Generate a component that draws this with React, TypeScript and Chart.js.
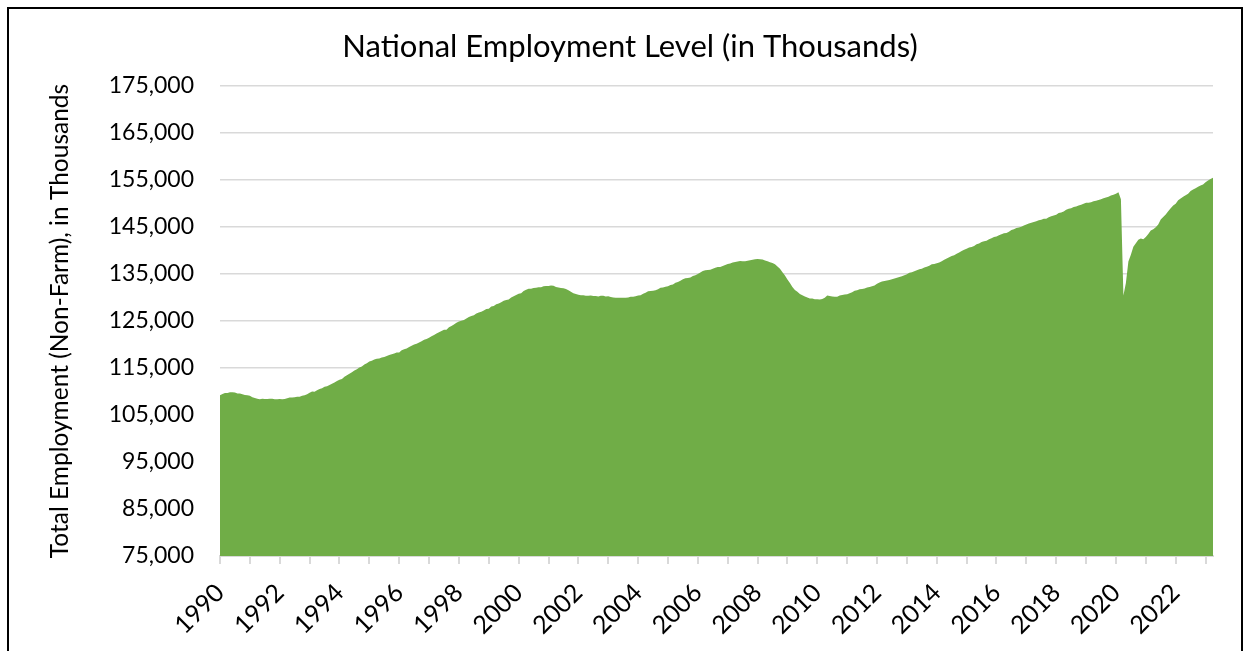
import React, { useEffect, useRef } from "react";
import { Chart, registerables } from "chart.js";

Chart.register(...registerables);

// Monthly total non-farm employment (thousands), Jan 1990 – Apr 2023
const employment1990s: number[] = [
  109199, 109456, 109661, 109698, 109847, 109859, 109802, 109596, 109570, 109417, 109272, 109209,
  109115, 108792, 108643, 108435, 108377, 108451, 108409, 108410, 108431, 108432, 108336, 108364,
  108391, 108336, 108418, 108586, 108697, 108699, 108773, 108900, 108897, 109080, 109211, 109426,
  109740, 109992, 109964, 110271, 110535, 110698, 110991, 111139, 111379, 111642, 111905, 112209,
  112479, 112673, 113133, 113481, 113797, 114107, 114471, 114757, 115101, 115300, 115723, 116018,
  116384, 116568, 116792, 116989, 117002, 117250, 117330, 117537, 117785, 117942, 118081, 118281,
  118311, 118754, 118979, 119137, 119458, 119745, 120005, 120168, 120402, 120682, 120986, 121154,
  121460, 121734, 122047, 122316, 122587, 122848, 123137, 123144, 123664, 123962, 124270, 124627,
  124874, 125046, 125203, 125526, 125864, 126075, 126246, 126596, 126787, 126972, 127255, 127578,
  127595, 128063, 128172, 128544, 128749, 129010, 129326, 129484, 129583, 129984, 130267, 130557,
];
const employment2000s: number[] = [
  130781, 130898, 131370, 131657, 131881, 131879, 132045, 132048, 132155, 132169, 132377, 132440,
  132471, 132531, 132500, 132212, 132150, 132037, 131973, 131808, 131553, 131216, 130903, 130734,
  130591, 130484, 130464, 130374, 130376, 130419, 130323, 130303, 130238, 130363, 130355, 130189,
  130281, 130108, 129985, 129957, 129960, 129945, 129946, 129924, 130004, 130165, 130181, 130284,
  130411, 130455, 130780, 131029, 131335, 131409, 131440, 131569, 131734, 132088, 132151, 132279,
  132413, 132652, 132778, 133131, 133300, 133544, 133890, 134093, 134163, 134251, 134589, 134738,
  135015, 135330, 135632, 135812, 135836, 135915, 136126, 136311, 136472, 136500, 136716, 136892,
  137130, 137224, 137455, 137530, 137673, 137741, 137720, 137727, 137814, 137915, 138027, 138134,
  138198, 138163, 138076, 137878, 137689, 137524, 137325, 137056, 136600, 136117, 135360, 134690,
  133804, 133063, 132259, 131578, 131227, 130761, 130466, 130238, 129989, 129792, 129776, 129605,
];
const employment2010s: number[] = [
  129616, 129558, 129692, 129943, 130431, 130311, 130235, 130180, 130162, 130425, 130552, 130627,
  130672, 130878, 131113, 131428, 131526, 131758, 131834, 131933, 132145, 132235, 132371, 132560,
  132923, 133188, 133428, 133513, 133614, 133712, 133870, 134048, 134215, 134345, 134503, 134747,
  134943, 135255, 135395, 135589, 135810, 135985, 136121, 136367, 136551, 136778, 137059, 137109,
  137297, 137466, 137734, 138045, 138285, 138579, 138814, 138997, 139323, 139585, 139904, 140164,
  140352, 140626, 140721, 140978, 141325, 141497, 141826, 141977, 142071, 142397, 142600, 142851,
  142996, 143230, 143454, 143658, 143698, 143994, 144357, 144509, 144776, 144889, 145031, 145295,
  145554, 145733, 145892, 146055, 146212, 146444, 146561, 146748, 146766, 147064, 147269, 147450,
  147616, 147968, 148079, 148288, 148684, 148874, 148986, 149244, 149354, 149587, 149719, 149923,
  150133, 150137, 150276, 150497, 150572, 150759, 150910, 151122, 151288, 151445, 151681, 151884,
];
const employment2020s: number[] = [
  152086, 152373, 150891, 130424, 133096, 137649, 139116, 140811, 141535, 142282, 142558, 142391,
  142879, 143508, 144248, 144525, 144945, 145536, 146597, 147130, 147649, 148328, 148970, 149557,
  149958, 150676, 151058, 151421, 151758, 152054, 152641, 152958, 153261, 153585, 153817, 154048,
  154500, 154900, 155200, 155500,
];

const employment: number[] = [
  ...employment1990s,
  ...employment2000s,
  ...employment2010s,
  ...employment2020s,
];

const firstYear = 1990;
const tickYears: number[] = [
  1990, 1991, 1992, 1993, 1994, 1995, 1996, 1997, 1998, 1999, 2000, 2001,
  2002, 2003, 2004, 2005, 2006, 2007, 2008, 2009, 2010, 2011, 2012, 2013,
  2014, 2015, 2016, 2017, 2018, 2019, 2020, 2021, 2022, 2023,
];
const yearLabels: string[] = [
  "1990", "1992", "1994", "1996", "1998", "2000", "2002", "2004", "2006",
  "2008", "2010", "2012", "2014", "2016", "2018", "2020", "2022",
];
const yTickValues: number[] = [
  75000, 85000, 95000, 105000, 115000, 125000, 135000, 145000, 155000, 165000, 175000,
];
const chartTitle = "National Employment Level (in Thousands)";
const yAxisTitle = "Total Employment (Non-Farm), in Thousands";

const FONT = "Lato";
const GREEN = "#70AD47";
const GRID = "#D9D9D9";

const titlePlugin = {
  id: "customTitle",
  afterDraw(chart: any) {
    const ctx = chart.ctx;
    ctx.save();
    ctx.font = `normal 31px ${FONT}`;
    ctx.fillStyle = "#000";
    ctx.textAlign = "center";
    ctx.textBaseline = "middle";
    ctx.fillText(chartTitle, 630, 47);
    ctx.restore();
  },
};

export default function App() {
  const canvasRef = useRef<HTMLCanvasElement | null>(null);

  useEffect(() => {
    const canvas = canvasRef.current;
    if (!canvas) return;
    const chart = new Chart(canvas, {
      type: "line",
      data: {
        datasets: [
          {
            label: "Total Employment",
            data: employment.map((v, i) => ({ x: i, y: v })),
            backgroundColor: GREEN,
            borderColor: GREEN,
            borderWidth: 0,
            pointRadius: 0,
            fill: "start",
            tension: 0,
          },
        ],
      },
      options: {
        animation: false,
        responsive: false,
        devicePixelRatio: 1,
        layout: { padding: { left: 0, right: 37, top: 86, bottom: 0 } },
        plugins: {
          legend: { display: false },
          tooltip: { enabled: false },
          title: { display: false },
        },
        scales: {
          x: {
            type: "linear",
            min: 0,
            max: employment.length - 1,
            afterBuildTicks: (s: any) => {
              s.ticks = tickYears.map((y) => ({ value: (y - firstYear) * 12 }));
            },
            afterFit: (s: any) => {
              s.height = 95;
            },
            ticks: {
              autoSkip: false,
              minRotation: 45,
              maxRotation: 45,
              color: "#000",
              padding: 14,
              font: { family: FONT, size: 25 },
              callback: (value: any) => {
                const y = String(firstYear + Math.round(Number(value) / 12));
                return yearLabels.includes(y) ? y : "";
              },
            },
            grid: {
              drawOnChartArea: false,
              drawTicks: true,
              tickLength: 8,
              color: GRID,
              lineWidth: 2,
            },
            border: { display: true, color: GRID, width: 2 },
          },
          y: {
            type: "linear",
            min: 75000,
            max: 175000,
            afterBuildTicks: (s: any) => {
              s.ticks = yTickValues.map((v) => ({ value: v }));
            },
            afterFit: (s: any) => {
              s.width = 220;
            },
            ticks: {
              color: "#000",
              padding: 26,
              font: { family: FONT, size: 23 },
              callback: (value: any) => Number(value).toLocaleString("en-US"),
            },
            grid: {
              drawTicks: false,
              color: GRID,
              lineWidth: 1.5,
            },
            border: { display: false },
            title: {
              display: true,
              text: yAxisTitle,
              color: "#000",
              font: { family: FONT, size: 24.5 },
              padding: { top: 45, bottom: 0 },
            },
          },
        },
      },
      plugins: [titlePlugin],
    } as any);
    return () => chart.destroy();
  }, []);

  return (
    <>
      <div
        style={{
          position: "fixed",
          left: 7,
          top: 7,
          width: 1236,
          height: 700,
          border: "2px solid #000",
          boxSizing: "border-box",
        }}
      />
      <canvas
        ref={canvasRef}
        width={1250}
        height={651}
        style={{ position: "fixed", left: 0, top: 0, width: 1250, height: 651 }}
      />
    </>
  );
}
